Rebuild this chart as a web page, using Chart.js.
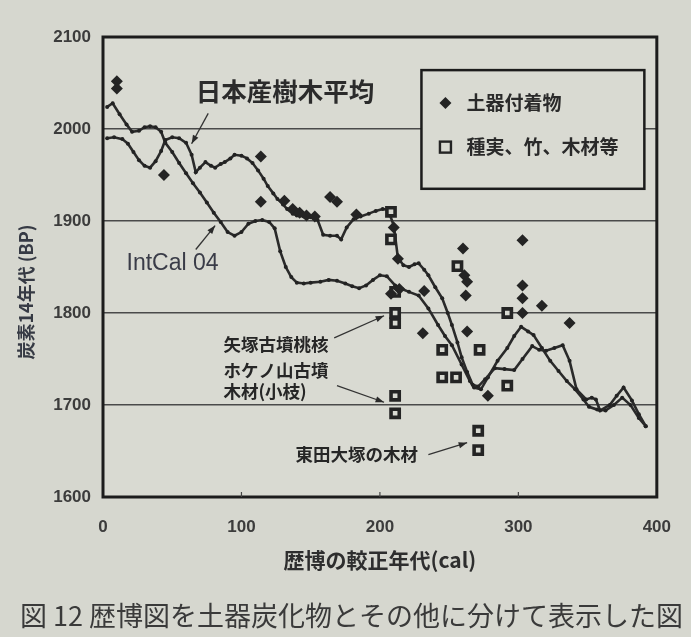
<!DOCTYPE html>
<html>
<head>
<meta charset="utf-8">
<script src="https://cdn.jsdelivr.net/npm/chart.js@4"></script>
<style>
html,body{margin:0;padding:0;background:#d6d7cf;}
#c{display:block;}
</style>
</head>
<body>
<canvas id="c" width="691" height="637"></canvas>
<script>
// ---- data ----
const xTickValues = [0, 100, 200, 300, 400];
const yTickValues = [1600, 1700, 1800, 1900, 2000, 2100];

// 日本産樹木平均
const japanX = [3,8,14,18,22,26,30,34,38,42,45,50,55,60,64,67,70,74,78,81,85,88,92,95,100,104,108,112,116,119,123,126,130,133,137,140,145,150,155,159,164,169,172,176,181,186,192,197,202,206,210,213,217,221,225,228,232,235,240,245,249,252,256,259,263,267,271,276,283,290,297,303,310,315,320,326,332,337,342,349,353,356,359,366,371,376,382,387,392];
const japanY = [1990,1991,1989,1984,1975,1966,1960,1958,1965,1976,1988,1991,1990,1985,1972,1953,1958,1964,1960,1958,1962,1964,1968,1972,1971,1968,1963,1955,1946,1938,1930,1924,1918,1913,1908,1906,1905,1904,1901,1885,1884,1884,1880,1893,1902,1905,1908,1911,1913,1912,1895,1860,1852,1850,1853,1854,1847,1841,1828,1816,1800,1787,1768,1752,1736,1722,1720,1728,1740,1739,1738,1750,1764,1760,1759,1762,1765,1748,1717,1706,1708,1706,1694,1700,1710,1719,1705,1690,1677];

// IntCal 04
const intcalX = [3,7,12,17,21,26,30,34,38,42,45,50,55,60,65,70,75,80,85,90,95,100,105,110,115,120,124,128,132,136,140,145,150,157,163,169,175,180,185,190,195,200,205,211,216,221,228,235,242,247,252,259,265,268,273,278,285,292,297,302,307,311,317,323,329,335,341,347,351,357,363,369,375,381,387,392];
const intcalY = [2024,2028,2016,2005,1997,1998,2002,2003,2002,1997,1985,1975,1963,1952,1941,1931,1920,1909,1899,1888,1884,1888,1897,1900,1901,1899,1892,1867,1850,1839,1833,1832,1833,1834,1836,1835,1832,1829,1827,1830,1836,1841,1840,1830,1826,1823,1819,1805,1787,1775,1765,1744,1726,1719,1717,1730,1748,1762,1775,1785,1780,1776,1762,1748,1737,1726,1717,1706,1698,1695,1694,1700,1708,1700,1686,1677];

// 土器付着物 (filled diamonds)
const sherdX = [10,10,44,114,114,131,137,142,147,153,164,169,183,210,213,208,214,232,231,260,261,263,262,263,278,303,303,303,303,317,337];
const sherdY = [2052,2044,1950,1970,1921,1922,1913,1909,1906,1905,1926,1921,1907,1893,1859,1821,1826,1824,1778,1870,1841,1834,1819,1780,1710,1879,1830,1816,1800,1808,1789];

// 種実、竹、木材等 (open squares)
const otherX = [208,208,211,211,211,211,211,256,245,245,255,272,292,292,271,271];
const otherY = [1910,1880,1823,1800,1789,1710,1691,1851,1760,1730,1730,1760,1800,1721,1672,1651];

const seriesNames = ['土器付着物', '種実、竹、木材等', '日本産樹木平均', 'IntCal 04'];
const xTitle = '歴博の較正年代(cal)';
const yTitle = '炭素14年代 (BP)';
const caption = '図 12 歴博図を土器炭化物とその他に分けて表示した図';

// annotations: text lines with anchor (data coords) and arrow (data coords, tail -> tip)
const notes = [
  {lines:['日本産樹木平均'], at:[67,2041], font:'bold 25.5px "Noto Sans CJK JP"', color:'#2b2b2b', arrow:[[76,2017],[64,1984]]},
  {lines:['IntCal 04'], at:[17,1854], font:'23px "Liberation Sans"', color:'#3a3c48', arrow:[[67,1869],[81,1895]]},
  {lines:['矢塚古墳桃核'], at:[87,1766], font:'bold 17.5px "Noto Sans CJK JP"', color:'#262626', arrow:[[167,1773],[203,1797]]},
  {lines:['ホケノ山古墳','木材(小枝)'], at:[87,1738], font:'bold 17.5px "Noto Sans CJK JP"', color:'#262626', arrow:[[169,1721],[203,1703]]},
  {lines:['東田大塚の木材'], at:[139,1646], font:'bold 17.5px "Noto Sans CJK JP"', color:'#262626', arrow:[[235,1646],[263,1659]]}
];

const pts = (xs, ys) => xs.map((x, i) => ({x: x, y: ys[i]}));
const INK = '#242424';
const BG = '#d6d7cf';
const PLOT_BG = '#d9dad2';

const decor = {
  id: 'decor',
  beforeDraw(chart) {
    const ctx = chart.ctx, a = chart.chartArea;
    ctx.save();
    ctx.fillStyle = BG;
    ctx.fillRect(0, 0, chart.width, chart.height);
    ctx.fillStyle = PLOT_BG;
    ctx.fillRect(a.left, a.top, a.right - a.left, a.bottom - a.top);
    ctx.restore();
  },
  afterDraw(chart) {
    const ctx = chart.ctx, a = chart.chartArea;
    const xs = chart.scales.x, ys = chart.scales.y;
    ctx.save();
    // frame
    ctx.strokeStyle = '#1c1c1c';
    ctx.lineWidth = 3;
    ctx.strokeRect(a.left, a.top, a.right - a.left, a.bottom - a.top);
    // small bottom ticks
    ctx.lineWidth = 1.2;
    ctx.strokeStyle = '#444';
    [100,200,300].forEach(v => {
      const px = xs.getPixelForValue(v);
      ctx.beginPath(); ctx.moveTo(px, a.bottom); ctx.lineTo(px, a.bottom - 5); ctx.stroke();
    });

    // legend box
    const lx0 = xs.getPixelForValue(230), lx1 = xs.getPixelForValue(391);
    const ly0 = ys.getPixelForValue(2064), ly1 = ys.getPixelForValue(1935);
    ctx.fillStyle = PLOT_BG;
    ctx.fillRect(lx0, ly0, lx1 - lx0, ly1 - ly0);
    ctx.strokeStyle = '#1c1c1c';
    ctx.lineWidth = 2.5;
    ctx.strokeRect(lx0, ly0, lx1 - lx0, ly1 - ly0);
    const r1y = ly0 + 33, r2y = ly0 + 77;
    // diamond
    ctx.fillStyle = INK;
    ctx.beginPath();
    ctx.moveTo(lx0 + 24, r1y - 6); ctx.lineTo(lx0 + 30, r1y); ctx.lineTo(lx0 + 24, r1y + 6); ctx.lineTo(lx0 + 18, r1y);
    ctx.closePath(); ctx.fill();
    // square
    ctx.strokeStyle = INK; ctx.lineWidth = 2.4;
    ctx.strokeRect(lx0 + 18.5, r2y - 5.5, 11, 11);
    ctx.fillStyle = '#2a2a2a';
    ctx.font = 'bold 19px "Noto Sans CJK JP"';
    ctx.textBaseline = 'middle';
    ctx.textAlign = 'left';
    ctx.fillText(seriesNames[0], lx0 + 45, r1y);
    ctx.fillText(seriesNames[1], lx0 + 45, r2y);

    // annotations
    notes.forEach(n => {
      ctx.font = n.font;
      ctx.fillStyle = n.color;
      ctx.textAlign = 'left';
      ctx.textBaseline = 'middle';
      const tx = xs.getPixelForValue(n.at[0]);
      let ty = ys.getPixelForValue(n.at[1]);
      n.lines.forEach((t, i) => ctx.fillText(t, tx, ty + i * 21));
      const [p0, p1] = n.arrow;
      const x0 = xs.getPixelForValue(p0[0]), y0 = ys.getPixelForValue(p0[1]);
      const x1 = xs.getPixelForValue(p1[0]), y1 = ys.getPixelForValue(p1[1]);
      ctx.strokeStyle = '#333';
      ctx.lineWidth = 1.3;
      ctx.beginPath(); ctx.moveTo(x0, y0); ctx.lineTo(x1, y1); ctx.stroke();
      const ang = Math.atan2(y1 - y0, x1 - x0);
      ctx.fillStyle = '#2a2a2a';
      ctx.beginPath();
      ctx.moveTo(x1, y1);
      ctx.lineTo(x1 - 9 * Math.cos(ang - 0.35), y1 - 9 * Math.sin(ang - 0.35));
      ctx.lineTo(x1 - 9 * Math.cos(ang + 0.35), y1 - 9 * Math.sin(ang + 0.35));
      ctx.closePath(); ctx.fill();
    });

    // axis titles
    ctx.fillStyle = '#2e2e2e';
    ctx.textAlign = 'center';
    ctx.textBaseline = 'middle';
    ctx.font = 'bold 21px "Noto Sans CJK JP"';
    ctx.fillText(xTitle, (a.left + a.right) / 2, 560);
    ctx.save();
    ctx.translate(26, 292);
    ctx.rotate(-Math.PI / 2);
    ctx.font = 'bold 18px "Noto Sans CJK JP"';
    ctx.fillStyle = '#363a44';
    ctx.fillText(yTitle, 0, 0);
    ctx.restore();
    // caption
    ctx.font = '27px "Noto Sans CJK JP"';
    ctx.fillStyle = '#3a3a3a';
    ctx.textAlign = 'left';
    ctx.fillText(caption, 20, 616);
    ctx.restore();
  }
};

new Chart(document.getElementById('c'), {
  type: 'scatter',
  data: {
    datasets: [
      {label: seriesNames[0], data: pts(sherdX, sherdY), pointStyle: 'rectRot', pointRadius: 6,
       backgroundColor: INK, borderColor: INK, borderWidth: 0, order: 0},
      {label: seriesNames[1], data: pts(otherX, otherY), pointStyle: 'rect', pointRadius: 5.8,
       backgroundColor: PLOT_BG, borderColor: INK, borderWidth: 3.6, order: 0},
      {label: seriesNames[2], data: pts(japanX, japanY), showLine: true, borderColor: '#2a2a2a', borderWidth: 2.6,
       pointRadius: 2, pointBackgroundColor: '#222', pointBorderWidth: 0, tension: 0, order: 1},
      {label: seriesNames[3], data: pts(intcalX, intcalY), showLine: true, borderColor: '#2a2a2a', borderWidth: 2.6,
       pointRadius: 2, pointBackgroundColor: '#222', pointBorderWidth: 0, tension: 0, order: 1}
    ]
  },
  options: {
    responsive: false,
    animation: false,
    layout: {padding: {left: 0, top: 37, right: 26, bottom: 0}},
    plugins: {legend: {display: false}, tooltip: {enabled: false}},
    scales: {
      x: {
        type: 'linear', min: 0, max: 400,
        afterBuildTicks: s => { s.ticks = xTickValues.map(v => ({value: v})); },
        afterFit: s => { s.height = 140; },
        grid: {display: false, drawTicks: false},
        border: {display: false},
        ticks: {padding: 20, color: '#3c3c3c', callback: v => String(v),
                font: {family: 'Liberation Sans', size: 17, weight: 'bold'}}
      },
      y: {
        type: 'linear', min: 1600, max: 2100,
        afterBuildTicks: s => { s.ticks = yTickValues.map(v => ({value: v})); },
        afterFit: s => { s.width = 103; },
        grid: {color: '#4a4a4a', lineWidth: 1.4, drawTicks: false},
        border: {display: false},
        ticks: {padding: 12, color: '#3c3c3c', callback: v => String(v),
                font: {family: 'Liberation Sans', size: 17, weight: 'bold'}}
      }
    }
  },
  plugins: [decor]
});
</script>
</body>
</html>
